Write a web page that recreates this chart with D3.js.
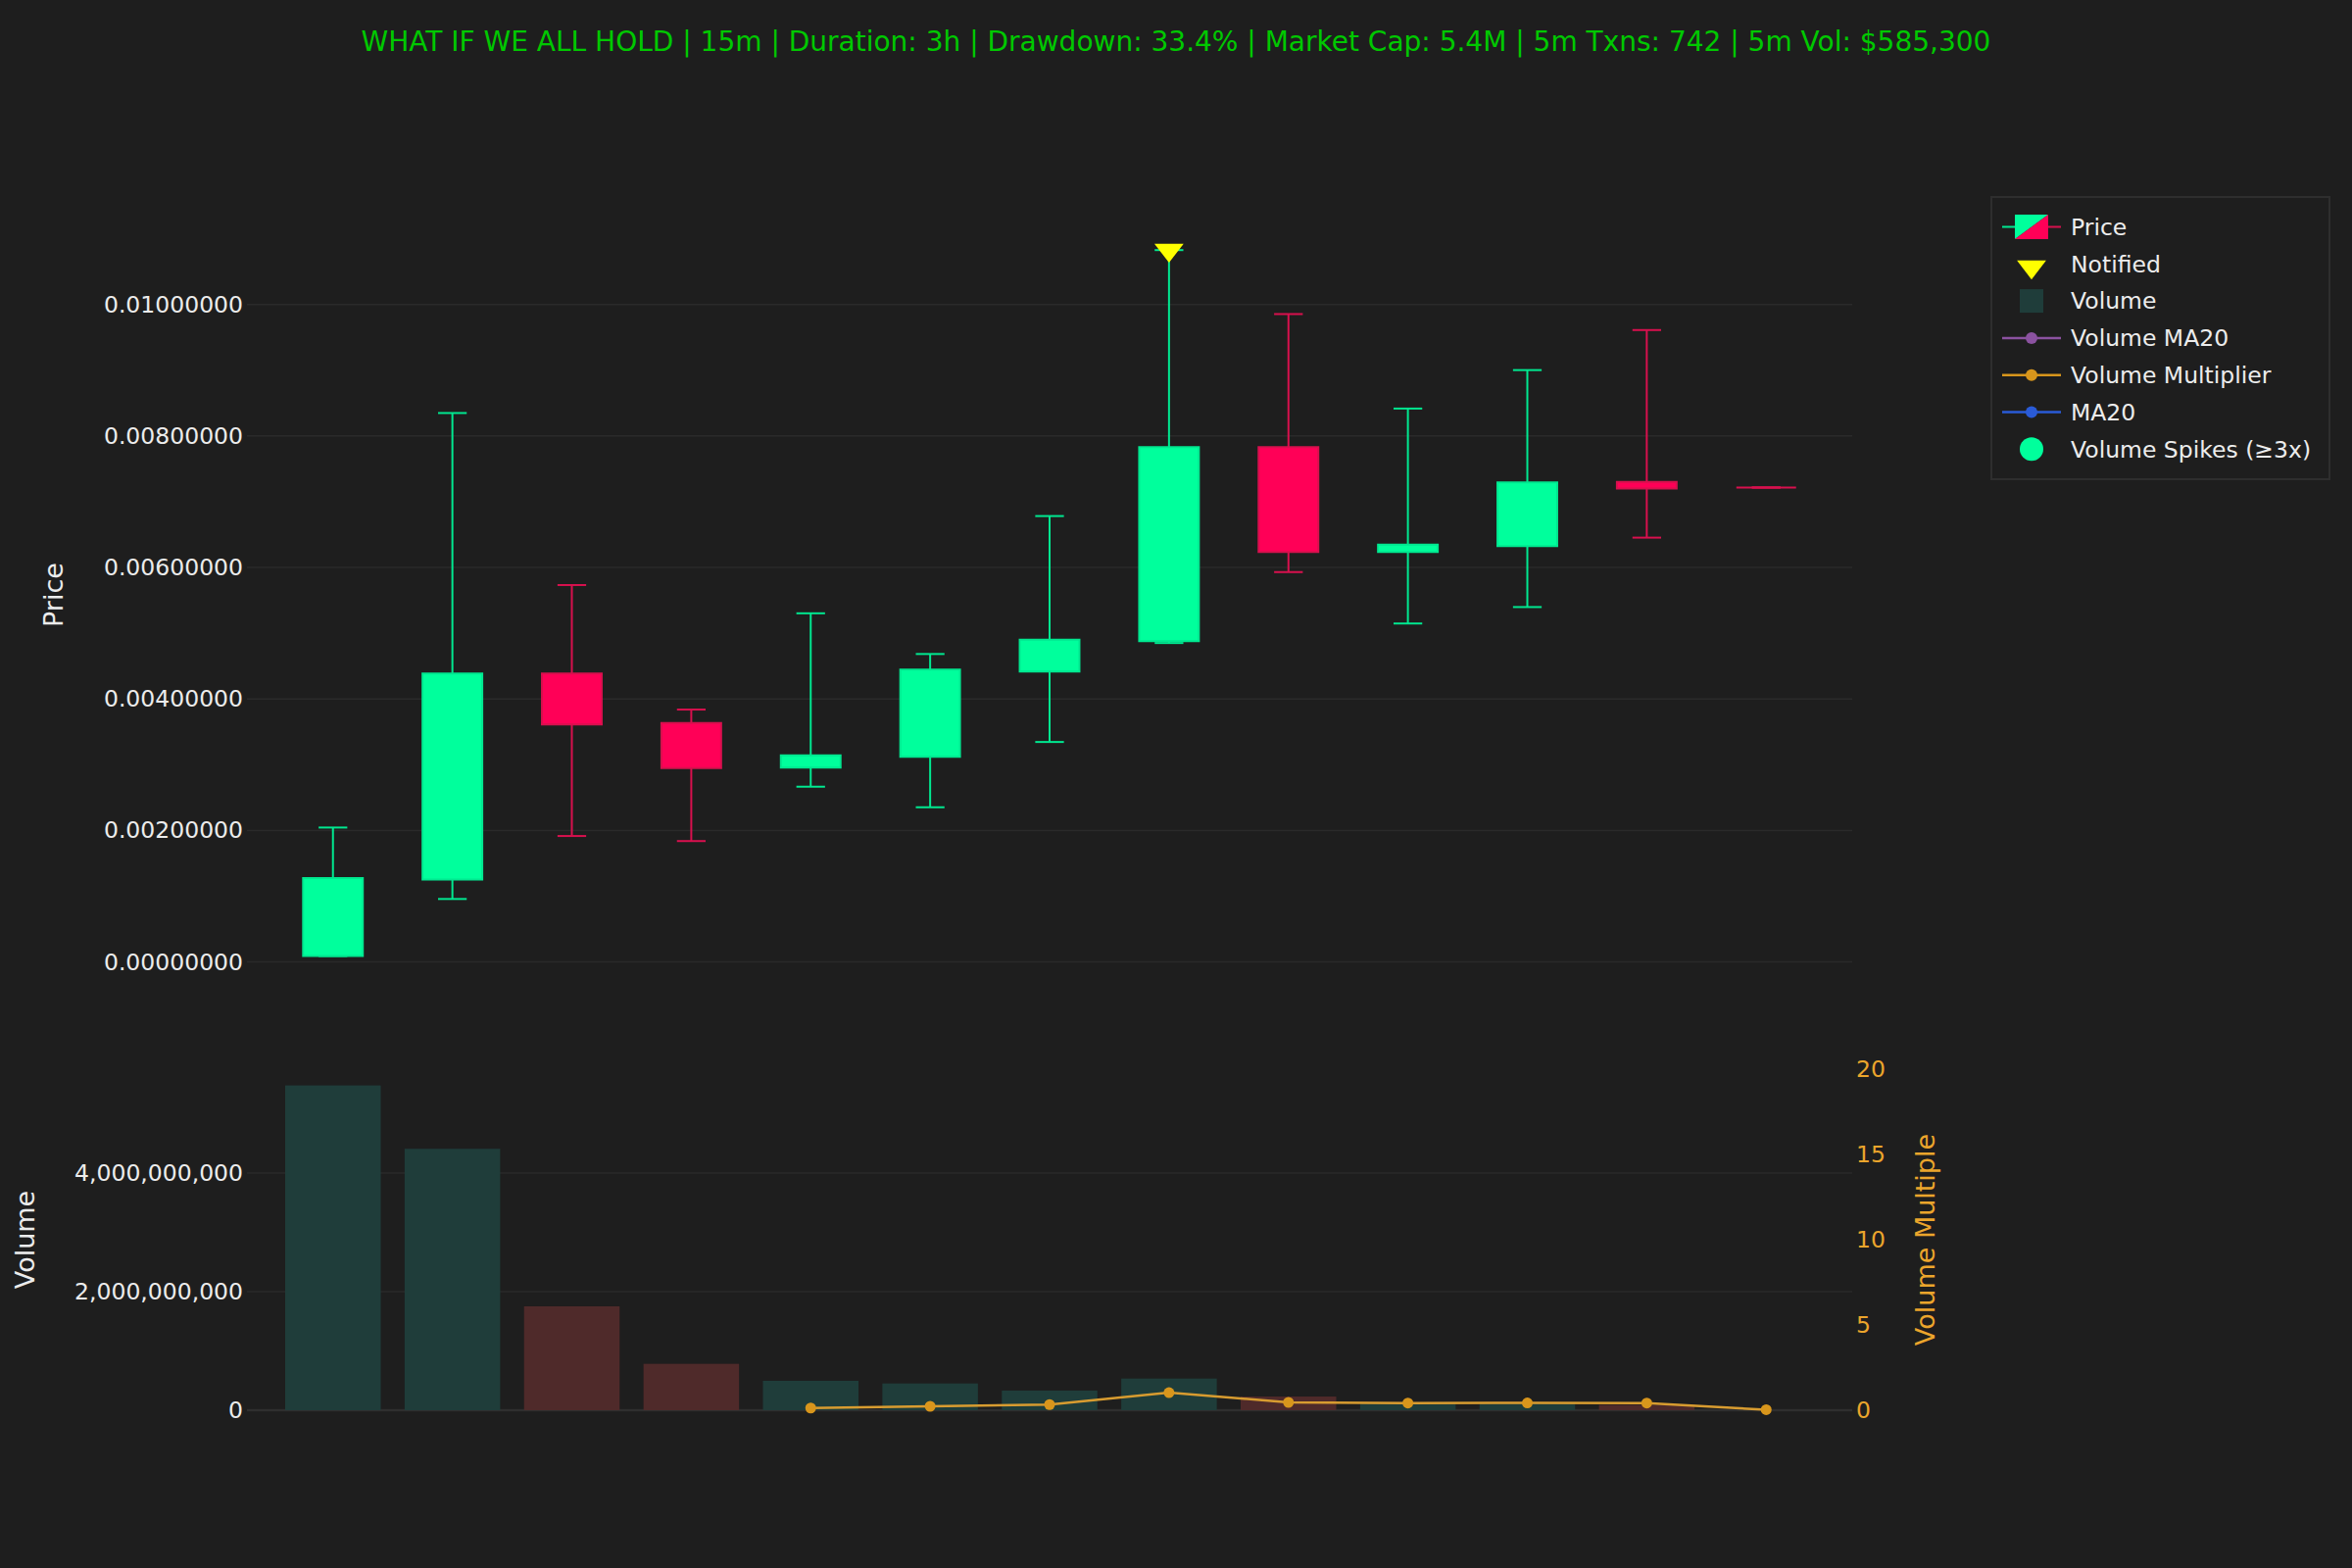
<!DOCTYPE html>
<html>
<head>
<meta charset="utf-8">
<script src="https://cdn.jsdelivr.net/npm/d3@7"></script>
<style>
  html, body { margin: 0; padding: 0; background: #1e1e1e; }
  svg { display: block; }
  text { font-family: "DejaVu Sans", sans-serif; }
</style>
</head>
<body>
<script>
// ---------------- DATA ----------------
const TITLE = "WHAT IF WE ALL HOLD | 15m | Duration: 3h | Drawdown: 33.4% | Market Cap: 5.4M | 5m Txns: 742 | 5m Vol: $585,300";
const candleIndex = [0,1,2,3,4,5,6,7,8,9,10,11,12];
const openPrices  = [0.00009, 0.001255, 0.004388, 0.003633, 0.002955, 0.003119, 0.004417, 0.004881, 0.007831, 0.006234, 0.006326, 0.007300, 0.007216];
const highPrices  = [0.002045, 0.008349, 0.005733, 0.003839, 0.005303, 0.004684, 0.006782, 0.010827, 0.009854, 0.008417, 0.009002, 0.009611, 0.007216];
const lowPrices   = [0.00009, 0.000958, 0.001916, 0.001839, 0.002666, 0.002353, 0.003346, 0.004851, 0.005930, 0.005148, 0.005398, 0.006454, 0.007216];
const closePrices = [0.001277, 0.004388, 0.003611, 0.002949, 0.003143, 0.004446, 0.004903, 0.007831, 0.006234, 0.006349, 0.007292, 0.007200, 0.007216];
const volumes     = [5.476e9, 4.408e9, 1.752e9, 0.782e9, 0.496e9, 0.451e9, 0.331e9, 0.534e9, 0.231e9, 0.130e9, 0.130e9, 0.090e9, 0];
const multIndex   = [4,5,6,7,8,9,10,11,12];
const multValues  = [0.13, 0.23, 0.33, 1.03, 0.46, 0.42, 0.43, 0.42, 0.03];
const notifiedIndex = [7];
const notifiedPrice = [0.010827];
const priceTicks  = [0, 0.002, 0.004, 0.006, 0.008, 0.010];
const volumeTicks = [0, 2e9, 4e9];
const multTicks   = [0, 5, 10, 15, 20];
const legendLabels = ["Price", "Notified", "Volume", "Volume MA20", "Volume Multiplier", "MA20", "Volume Spikes (≥3x)"];

// ---------------- LAYOUT / STYLE ----------------
const W = 2400, H = 1600;
const BG = "#1e1e1e";
const GRID = "#2a2a2a";
const INC_FILL = "#00ff9c", INC_LINE = "#00e890";
const DEC_FILL = "#ff0057", DEC_LINE = "#d8104e";
const VOL_INC = "#1f3d3a", VOL_DEC = "#4f2a2a";
const ORANGE_LINE = "#d89c30", ORANGE_MK = "#d8961c", ORANGE_TXT = "#eba52c";
const TXT = "#ececec";
const plotL = 252, plotR = 1890;
const priceTop = 224, priceBot = 990;
const volTop = 1091, volBot = 1439;

const svg = d3.select("body").append("svg").attr("width", W).attr("height", H);
svg.append("rect").attr("width", W).attr("height", H).attr("fill", BG);

const x = d3.scaleLinear().domain([-0.72, 12.72]).range([plotL, plotR]);
const step = x(1) - x(0);
const yP = d3.scaleLinear().domain([-0.000125, 0.011292]).range([priceBot, priceTop]);
const yV = d3.scaleLinear().domain([0, 5.75e9]).range([volBot, volTop]);
const yM = d3.scaleLinear().domain([0, 20]).range([volBot, volTop]);

// Title
svg.append("text").attr("x", W / 2).attr("y", 52).attr("text-anchor", "middle")
  .attr("font-size", 28).attr("fill", "#00c800").text(TITLE);

// Gridlines
svg.append("g").selectAll("line").data(priceTicks).join("line")
  .attr("x1", plotL).attr("x2", plotR).attr("y1", d => yP(d)).attr("y2", d => yP(d))
  .attr("stroke", GRID).attr("stroke-width", 1.5);
svg.append("g").selectAll("line").data(volumeTicks).join("line")
  .attr("x1", plotL).attr("x2", plotR).attr("y1", d => yV(d)).attr("y2", d => yV(d))
  .attr("stroke", d => d === 0 ? "#2f2f2f" : GRID).attr("stroke-width", d => d === 0 ? 2.5 : 1.5);

// Axes
function styleAxis(g, color) {
  g.select(".domain").remove();
  g.selectAll(".tick line").remove();
  g.selectAll("text").attr("font-size", 23.5).attr("fill", color).attr("font-family", "DejaVu Sans");
}
svg.append("g").attr("transform", `translate(${plotL},0)`)
  .call(d3.axisLeft(yP).tickValues(priceTicks).tickFormat(d3.format(".8f")).tickSize(0).tickPadding(4))
  .call(g => styleAxis(g, TXT));
svg.append("g").attr("transform", `translate(${plotL},0)`)
  .call(d3.axisLeft(yV).tickValues(volumeTicks).tickFormat(d3.format(",")).tickSize(0).tickPadding(4))
  .call(g => styleAxis(g, TXT));
svg.append("g").attr("transform", `translate(${plotR},0)`)
  .call(d3.axisRight(yM).tickValues(multTicks).tickFormat(d3.format("d")).tickSize(0).tickPadding(4))
  .call(g => styleAxis(g, ORANGE_TXT));

// Axis titles
svg.append("text").attr("transform", `translate(55,${(priceTop + priceBot) / 2}) rotate(-90)`)
  .attr("text-anchor", "middle").attr("dy", "0.35em").attr("font-size", 27).attr("fill", TXT).text("Price");
svg.append("text").attr("transform", `translate(26,${(volTop + volBot) / 2}) rotate(-90)`)
  .attr("text-anchor", "middle").attr("dy", "0.35em").attr("font-size", 27).attr("fill", TXT).text("Volume");
svg.append("text").attr("transform", `translate(1965,${(volTop + volBot) / 2}) rotate(-90)`)
  .attr("text-anchor", "middle").attr("dy", "0.35em").attr("font-size", 27).attr("fill", ORANGE_TXT).text("Volume Multiple");

// Candles
const candles = candleIndex.map((i, k) => ({
  i, o: openPrices[k], h: highPrices[k], l: lowPrices[k], c: closePrices[k], v: volumes[k],
  up: closePrices[k] > openPrices[k]
}));
const bodyW = step * 0.5, capW = step * 0.24, barW = step * 0.8;

// Volume bars
svg.append("g").selectAll("rect").data(candles.filter(d => d.v > 0)).join("rect")
  .attr("x", d => x(d.i) - barW / 2).attr("width", barW)
  .attr("y", d => yV(d.v)).attr("height", d => yV(0) - yV(d.v))
  .attr("fill", d => d.up ? VOL_INC : VOL_DEC);

const cg = svg.append("g").selectAll("g").data(candles).join("g");
const lineCol = d => d.up ? INC_LINE : DEC_LINE;
cg.append("line").attr("x1", d => x(d.i)).attr("x2", d => x(d.i))
  .attr("y1", d => yP(d.h)).attr("y2", d => yP(d.l))
  .attr("stroke", lineCol).attr("stroke-width", 2);
cg.append("line").attr("x1", d => x(d.i) - capW / 2).attr("x2", d => x(d.i) + capW / 2)
  .attr("y1", d => yP(d.h)).attr("y2", d => yP(d.h))
  .attr("stroke", lineCol).attr("stroke-width", 2);
cg.append("line").attr("x1", d => x(d.i) - capW / 2).attr("x2", d => x(d.i) + capW / 2)
  .attr("y1", d => yP(d.l)).attr("y2", d => yP(d.l))
  .attr("stroke", lineCol).attr("stroke-width", 2);
cg.append("path")
  .attr("d", d => {
    const x0 = x(d.i) - bodyW / 2, x1 = x(d.i) + bodyW / 2;
    const y0 = yP(Math.max(d.o, d.c)), y1 = yP(Math.min(d.o, d.c));
    return `M${x0},${y0}H${x1}V${y1}H${x0}Z`;
  })
  .attr("fill", d => d.up ? INC_FILL : DEC_FILL)
  .attr("stroke", lineCol).attr("stroke-width", 2);

// Notified marker (triangle-down)
function triDown(r) {
  const rt = r * 2 / Math.sqrt(3);
  return `M${-rt},${-r / 2}H${rt}L0,${r}Z`;
}
svg.append("g").selectAll("path").data(notifiedIndex.map((i, k) => ({ i, p: notifiedPrice[k] }))).join("path")
  .attr("transform", d => `translate(${x(d.i)},${yP(d.p)})`)
  .attr("d", triDown(12.9)).attr("fill", "#ffff00");

// Volume multiplier line
const mult = multIndex.map((i, k) => ({ i, m: multValues[k] }));
svg.append("path").datum(mult)
  .attr("d", d3.line().x(d => x(d.i)).y(d => yM(d.m)))
  .attr("fill", "none").attr("stroke", ORANGE_LINE).attr("stroke-width", 2.5);
svg.append("g").selectAll("circle").data(mult).join("circle")
  .attr("cx", d => x(d.i)).attr("cy", d => yM(d.m)).attr("r", 5.5).attr("fill", ORANGE_MK);

// Legend
const lg = svg.append("g");
lg.append("rect").attr("x", 2032).attr("y", 201).attr("width", 345).attr("height", 288)
  .attr("fill", BG).attr("stroke", "#2e2e2e").attr("stroke-width", 2);
const rowY = k => 231.5 + k * 37.8;
const symX = 2073, txtX = 2113;
legendLabels.forEach((lab, k) => {
  lg.append("text").attr("x", txtX).attr("y", rowY(k)).attr("dy", "0.35em")
    .attr("font-size", 23.5).attr("fill", TXT).text(lab);
});
// Price symbol
{
  const cy = rowY(0);
  lg.append("line").attr("x1", 2043).attr("x2", 2058).attr("y1", cy).attr("y2", cy).attr("stroke", INC_LINE).attr("stroke-width", 2);
  lg.append("line").attr("x1", 2088).attr("x2", 2103).attr("y1", cy).attr("y2", cy).attr("stroke", DEC_LINE).attr("stroke-width", 2);
  lg.append("path").attr("d", `M2056,${cy - 12.5}H2090L2056,${cy + 12.5}Z`).attr("fill", INC_FILL);
  lg.append("path").attr("d", `M2090,${cy - 12.5}V${cy + 12.5}H2056Z`).attr("fill", DEC_FILL);
}
lg.append("path").attr("transform", `translate(${symX},${rowY(1) + 3})`).attr("d", triDown(12.9)).attr("fill", "#ffff00");
lg.append("rect").attr("x", symX - 12).attr("y", rowY(2) - 12).attr("width", 24).attr("height", 24).attr("fill", VOL_INC);
[["#8b52a0", 3], [ORANGE_MK, 4], ["#2a5bd7", 5]].forEach(([col, k]) => {
  lg.append("line").attr("x1", 2043).attr("x2", 2103).attr("y1", rowY(k)).attr("y2", rowY(k)).attr("stroke", col).attr("stroke-width", 2.5);
  lg.append("circle").attr("cx", symX).attr("cy", rowY(k)).attr("r", 6).attr("fill", col);
});
lg.append("circle").attr("cx", symX).attr("cy", rowY(6)).attr("r", 12).attr("fill", INC_FILL);
</script>
</body>
</html>
